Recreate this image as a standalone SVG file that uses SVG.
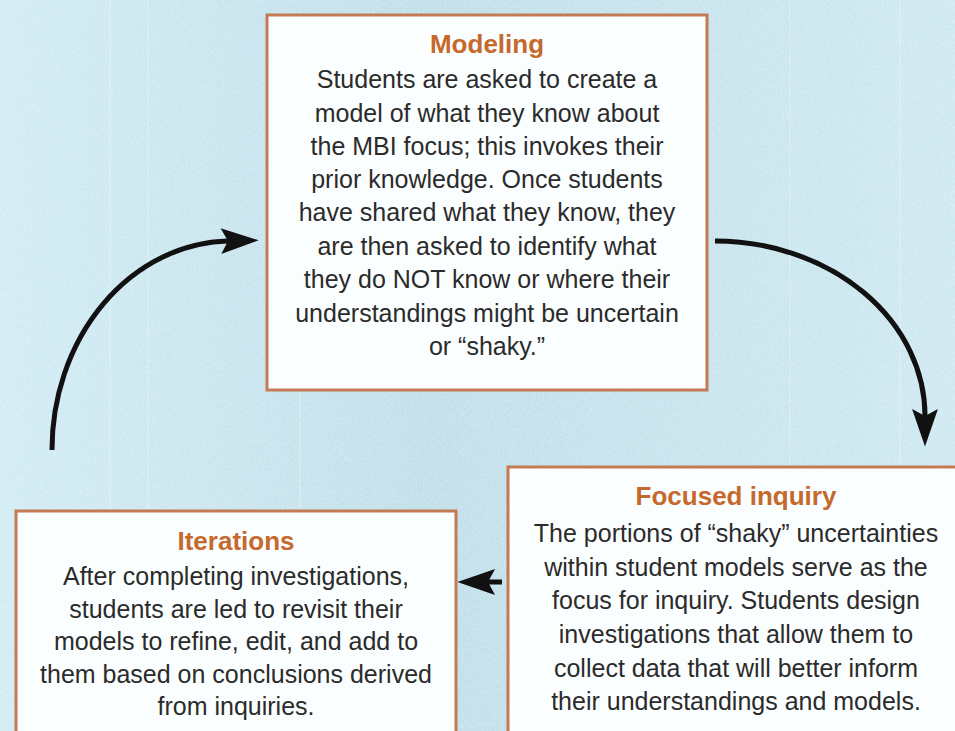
<svg xmlns="http://www.w3.org/2000/svg" width="955" height="731" viewBox="0 0 955 731">
  <style>
    .box { fill: #fbfefe; stroke: #c47a52; stroke-width: 3; }
    .head { font-family: "Liberation Sans", Arial, sans-serif; font-weight: bold; font-size: 26px; fill: #c5692d; text-anchor: middle; }
    .body { font-family: "Liberation Sans", Arial, sans-serif; font-size: 25px; fill: #2b2b2b; text-anchor: middle; }
    .flow { fill: none; stroke: #111; stroke-width: 5; }
  </style>
  <defs>
    <linearGradient id="bg" x1="0" y1="0" x2="1" y2="0">
      <stop offset="0" stop-color="#d2ecf4"/>
      <stop offset="0.45" stop-color="#c1dfea"/>
      <stop offset="1" stop-color="#cfe9f1"/>
    </linearGradient>
    <filter id="grain" x="0" y="0" width="100%" height="100%">
      <feTurbulence type="fractalNoise" baseFrequency="0.9 0.35" numOctaves="2" seed="4" result="n"/>
      <feColorMatrix in="n" type="matrix" values="0 0 0 0 1  0 0 0 0 1  0 0 0 0 1  0 0 0 -1.6 1.0"/>
    </filter>
    <marker id="head" markerUnits="userSpaceOnUse" markerWidth="40" markerHeight="30" refX="6" refY="11" orient="auto" viewBox="0 0 34 22" overflow="visible">
      <path d="M6,11 L0,0 L32,11 L0,22 Z" fill="#111"/>
    </marker>
  </defs>

  <!-- textured blue backdrop -->
  <rect x="0" y="0" width="955" height="731" fill="url(#bg)"/>
  <rect x="0" y="0" width="955" height="731" filter="url(#grain)" opacity="0.35"/>
  <g stroke="#ffffff" stroke-opacity="0.25" stroke-width="1.5">
    <line x1="110" y1="0" x2="110" y2="731"/>
    <line x1="148" y1="0" x2="148" y2="731"/>
    <line x1="300" y1="380" x2="300" y2="731"/>
    <line x1="790" y1="0" x2="790" y2="470"/>
    <line x1="900" y1="0" x2="900" y2="470"/>
  </g>

  <!-- cycle connectors -->
  <g id="connectors">
    <path class="flow" d="M52,450 A180,209 0 0 1 228,241" marker-end="url(#head)"/>
    <path class="flow" d="M715,241 A210,175 0 0 1 925,416" marker-end="url(#head)"/>
    <path class="flow" d="M502,582 L488,582" marker-end="url(#head)"/>
  </g>

  <g id="modeling">
    <rect class="box" x="267" y="15" width="440" height="375"/>
    <text class="head" x="487" y="53">Modeling</text>
    <text class="body" x="487" y="88">Students are asked to create a</text>
    <text class="body" x="487" y="121.5">model of what they know about</text>
    <text class="body" x="487" y="155">the MBI focus; this invokes their</text>
    <text class="body" x="487" y="188">prior knowledge. Once students</text>
    <text class="body" x="487" y="221">have shared what they know, they</text>
    <text class="body" x="487" y="254.5">are then asked to identify what</text>
    <text class="body" x="487" y="288">they do NOT know or where their</text>
    <text class="body" x="487" y="321.5">understandings might be uncertain</text>
    <text class="body" x="487" y="355">or “shaky.”</text>
  </g>

  <g id="focused-inquiry">
    <rect class="box" x="508" y="467" width="460" height="290"/>
    <text class="head" x="736" y="505">Focused inquiry</text>
    <text class="body" x="736" y="542">The portions of “shaky” uncertainties</text>
    <text class="body" x="736" y="576">within student models serve as the</text>
    <text class="body" x="736" y="609">focus for inquiry. Students design</text>
    <text class="body" x="736" y="643">investigations that allow them to</text>
    <text class="body" x="736" y="677">collect data that will better inform</text>
    <text class="body" x="736" y="710">their understandings and models.</text>
  </g>

  <g id="iterations">
    <rect class="box" x="16" y="511" width="440" height="250"/>
    <text class="head" x="236" y="550">Iterations</text>
    <text class="body" x="236" y="585">After completing investigations,</text>
    <text class="body" x="236" y="618">students are led to revisit their</text>
    <text class="body" x="236" y="650">models to refine, edit, and add to</text>
    <text class="body" x="236" y="683">them based on conclusions derived</text>
    <text class="body" x="236" y="715">from inquiries.</text>
  </g>
</svg>
